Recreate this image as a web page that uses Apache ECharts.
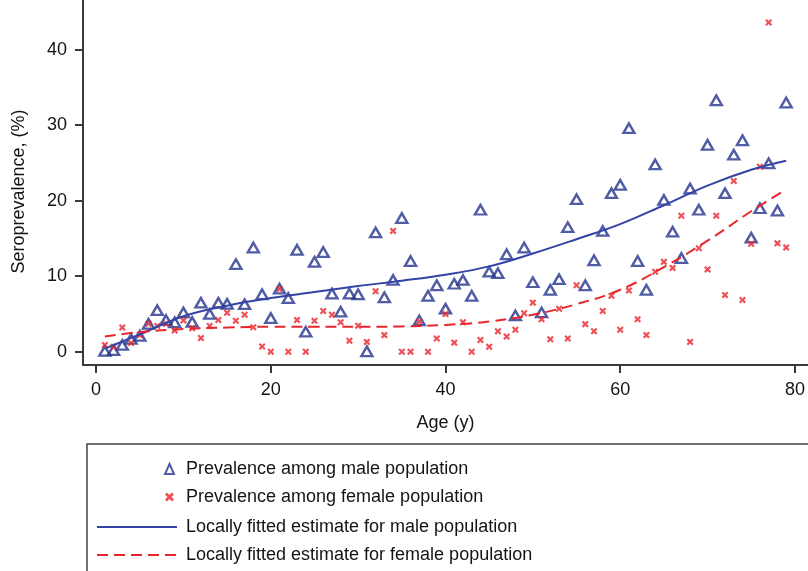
<!DOCTYPE html>
<html>
<head>
<meta charset="utf-8">
<script src="https://cdn.jsdelivr.net/npm/echarts@6/dist/echarts.min.js"></script>
<style>
html,body{margin:0;padding:0;background:#fff;}
#chart{width:808px;height:571px;}
</style>
</head>
<body>
<div id="chart"></div>
<script>
// Ages (years)
const ages = [];
for (let a = 1; a <= 79; a++) ages.push(a);

// Seroprevalence (%) among male population, ages 1..79
const maleValues = [
  0.1, 0.2, 0.9, 1.7, 2.1, 3.7, 5.5, 4.2, 3.9, 5.2,
  3.95, 6.5, 5.0, 6.5, 6.35, 11.6, 6.3, 13.8, 7.6, 4.45,
  8.35, 7.1, 13.5, 2.65, 11.9, 13.2, 7.7, 5.3, 7.7, 7.6,
  0.05, 15.8, 7.2, 9.5, 17.7, 12.0, 4.15, 7.4, 8.8, 5.7,
  9.0, 9.5, 7.4, 18.8, 10.6, 10.4, 12.9, 4.8, 13.8, 9.2,
  5.2, 8.2, 9.6, 16.5, 20.2, 8.8, 12.1, 16.0, 21.0, 22.1,
  29.6, 12.0, 8.2, 24.8, 20.1, 15.9, 12.4, 21.6, 18.8, 27.4,
  33.3, 21.0, 26.1, 28.0, 15.1, 19.0, 24.95, 18.7, 33.0
];

// Seroprevalence (%) among female population, ages 1..79
const femaleValues = [
  0.9, 0.65, 3.2, 1.15, 2.2, 3.7, 3.4, 3.7, 2.8, 4.15,
  3.1, 1.8, 3.4, 4.2, 5.15, 4.1, 4.9, 3.25, 0.7, 0.0,
  8.3, 0.0, 4.2, 0.0, 4.1, 5.4, 4.9, 3.9, 1.45, 3.45,
  1.3, 8.0, 2.2, 16.0, 0.0, 0.0, 4.0, 0.0, 1.75, 5.0,
  1.2, 3.9, 0.0, 1.55, 0.65, 2.7, 2.0, 2.9, 5.1, 6.5,
  4.3, 1.65, 5.7, 1.75, 8.8, 3.65, 2.7, 5.4, 7.4, 2.9,
  8.1, 4.3, 2.2, 10.6, 11.9, 11.1, 18.0, 1.3, 13.7, 10.9,
  18.0, 7.5, 22.6, 6.85, 14.3, 24.5, 43.6, 14.35, 13.8
];

// Locally fitted estimates
const fitAges = [1, 5, 10, 15, 20, 25, 30, 35, 40, 45, 50, 55, 60, 65, 70, 75, 79];
const maleFitValues = [0.4, 2.3, 4.7, 6.1, 7.1, 7.9, 8.7, 9.4, 10.2, 11.3, 13.0, 14.9, 16.9, 19.4, 22.0, 24.1, 25.3];
const femaleFitValues = [2.0, 2.6, 3.0, 3.2, 3.3, 3.3, 3.3, 3.35, 3.55, 4.0, 4.9, 6.3, 8.2, 11.2, 14.7, 18.6, 21.5];

// Tick labels
const xTicks = [0, 20, 40, 60, 80];
const yTicks = [0, 10, 20, 30, 40];

const seriesNames = [
  'Prevalence among male population',
  'Prevalence among female population',
  'Locally fitted estimate for male population',
  'Locally fitted estimate for female population'
];

const BLUE = '#24338c';
const RED = '#e8262b';
const TXT = '#141414';
const AX = '#3a3a3a';
const FONT = '"Liberation Sans", Arial, Helvetica, sans-serif';
const XSYM = 'path://M0,2.2L2.2,0L5,2.8L7.8,0L10,2.2L7.2,5L10,7.8L7.8,10L5,7.2L2.2,10L0,7.8L2.8,5Z';

const pair = (xs, ys) => xs.map((x, i) => [x, ys[i]]);

const chart = echarts.init(document.getElementById('chart'), null, {renderer: 'canvas'});
chart.setOption({
  animation: false,
  backgroundColor: '#fff',
  textStyle: {fontFamily: FONT},
  grid: {left: 83, right: 0, top: 0, bottom: 206, containLabel: false},
  xAxis: {
    type: 'value', min: -1.5, max: 81.5,
    name: 'Age (y)', nameLocation: 'middle', nameGap: 49,
    nameTextStyle: {fontSize: 18, color: TXT, fontFamily: FONT},
    axisLine: {show: true, onZero: false, lineStyle: {color: AX, width: 2}},
    axisTick: {show: true, length: 8, customValues: xTicks, lineStyle: {color: AX, width: 2}},
    axisLabel: {customValues: xTicks, fontSize: 18, color: TXT, margin: 16, fontFamily: FONT},
    splitLine: {show: false}
  },
  yAxis: {
    type: 'value', min: -1.76, max: 46.58,
    name: 'Seroprevalence, (%)', nameLocation: 'middle', nameGap: 55,
    nameTextStyle: {fontSize: 18, color: TXT, fontFamily: FONT, padding: [0, 18, 0, 0]},
    axisLine: {show: true, onZero: false, lineStyle: {color: AX, width: 2}},
    axisTick: {show: true, length: 8, customValues: yTicks, lineStyle: {color: AX, width: 2}},
    axisLabel: {customValues: yTicks, fontSize: 18, color: TXT, margin: 16, fontFamily: FONT},
    splitLine: {show: false}
  },
  legend: [
    {
      data: [seriesNames[0], seriesNames[1]],
      orient: 'vertical', left: 164, top: 460, padding: 0,
      itemWidth: 9, itemHeight: 10, itemGap: 10,
      textStyle: {fontSize: 18, color: TXT, fontFamily: FONT, lineHeight: 18, padding: [0, 0, 0, 7]},
      selectedMode: false
    },
    {
      data: [seriesNames[2], seriesNames[3]],
      orient: 'vertical', left: 96, top: 518, padding: 0,
      itemWidth: 80, itemHeight: 14, itemGap: 10,
      itemStyle: {color: 'rgba(0,0,0,0)', borderColor: 'rgba(0,0,0,0)', borderWidth: 0},
      textStyle: {fontSize: 18, color: TXT, fontFamily: FONT, lineHeight: 18, padding: [0, 0, 0, 4]},
      selectedMode: false
    }
  ],
  graphic: [{
    type: 'rect', silent: true, z: -1,
    shape: {x: 87, y: 444, width: 800, height: 200},
    style: {fill: 'none', stroke: '#444', lineWidth: 1.5}
  }],
  series: [
    {
      name: seriesNames[0], type: 'scatter',
      data: pair(ages, maleValues),
      symbol: 'triangle', symbolSize: [11, 9.5],
      itemStyle: {color: 'rgba(255,255,255,0)', borderColor: BLUE, borderWidth: 2.4},
      z: 3
    },
    {
      name: seriesNames[1], type: 'scatter',
      data: pair(ages, femaleValues),
      symbol: XSYM, symbolSize: 7,
      itemStyle: {color: RED},
      z: 3
    },
    {
      name: seriesNames[2], type: 'line',
      data: pair(fitAges, maleFitValues),
      smooth: 0.4, symbol: 'none',
      lineStyle: {color: '#3344a6', width: 2},
      itemStyle: {color: '#3344a6'},
      z: 4
    },
    {
      name: seriesNames[3], type: 'line',
      data: pair(fitAges, femaleFitValues),
      smooth: 0.4, symbol: 'none',
      lineStyle: {color: RED, width: 2, type: [11, 6]},
      itemStyle: {color: RED},
      z: 4
    }
  ]
});
</script>
</body>
</html>
